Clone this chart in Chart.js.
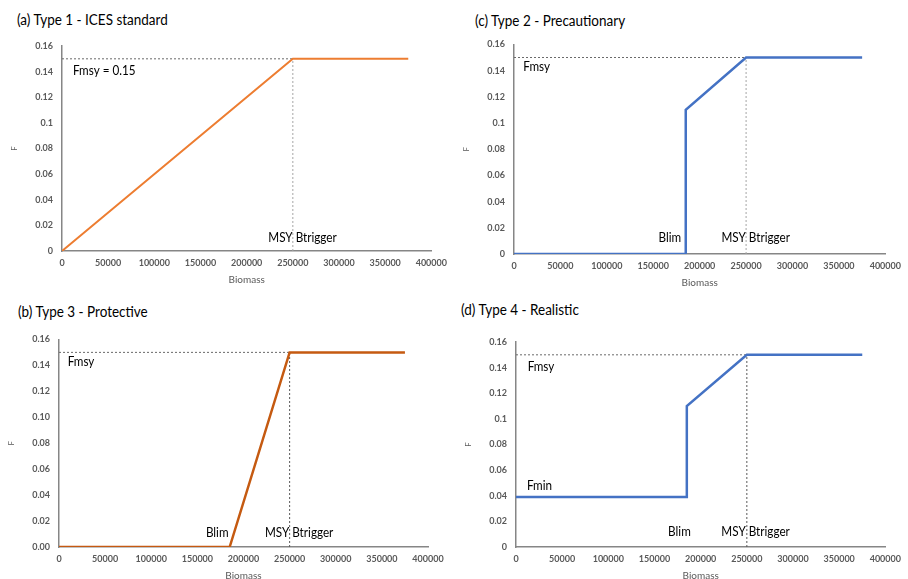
<!DOCTYPE html>
<html lang="en">
<head>
  <meta charset="UTF-8">
  <title>Harvest control rules</title>
  <script src="https://cdn.jsdelivr.net/npm/chart.js"></script>
  <style>
    body {
      margin: 0;
      background: #ffffff;
      font-family: Lato, "Open Sans", sans-serif;
    }
    #page {
      position: relative;
      width: 908px;
      height: 579px;
      overflow: hidden;
    }
    .title {
      position: absolute;
      font-size: 14.5px;
      color: #000;
      white-space: nowrap;
      transform: scaleX(0.93);
      transform-origin: left center;
    }
    .box {
      position: absolute;
    }
  </style>
</head>
<body>
<div id="page">
  <div class="title" style="left:17px; top:11px;">(a) Type 1 - ICES standard</div>
  <div class="title" style="left:475px; top:12px;">(c) Type 2 - Precautionary</div>
  <div class="title" style="left:18px; top:303px;">(b) Type 3 - Protective</div>
  <div class="title" style="left:461px; top:301px;">(d) Type 4 - Realistic</div>

  <div class="box" style="left:0px; top:30px; width:454px; height:262px;"><canvas id="chartA"></canvas></div>
  <div class="box" style="left:454px; top:30px; width:454px; height:262px;"><canvas id="chartC"></canvas></div>
  <div class="box" style="left:0px; top:325px; width:454px; height:262px;"><canvas id="chartB"></canvas></div>
  <div class="box" style="left:454px; top:325px; width:454px; height:262px;"><canvas id="chartD"></canvas></div>
</div>

<script>
  // x ticks and y ticks shared by all four panels
  const biomassTicks = [0, 50000, 100000, 150000, 200000, 250000, 300000, 350000, 400000];
  const fTicks = [0, 0.02, 0.04, 0.06, 0.08, 0.1, 0.12, 0.14, 0.16];

  // reference points
  const fmsy = 0.15;
  const msyBtrigger = 250000;

  // harvest control rules (biomass, F)
  const type1Biomass = [0, 250000, 375000];
  const type1F = [0, 0.15, 0.15];

  const type2Biomass = [0, 185000, 185000, 250000, 375000];
  const type2F = [0, 0, 0.11, 0.15, 0.15];

  const type3Biomass = [0, 185000, 250000, 375000];
  const type3F = [0, 0, 0.15, 0.15];

  const type4Biomass = [0, 185000, 185000, 250000, 375000];
  const type4F = [0.039, 0.039, 0.11, 0.15, 0.15];

  // text labels: [text, biomass, F, align]
  const labelsA = [["Fmsy = 0.15", 11900, 0.1405, "left"], ["MSY Btrigger", 260500, 0.0104, "center"]];
  const labelsC = [["Fmsy", 10000, 0.143, "left"], ["Blim", 180000, 0.0125, "right"], ["MSY Btrigger", 260400, 0.0125, "center"]];
  const labelsB = [["Fmsy", 9400, 0.1425, "left"], ["Blim", 183800, 0.011, "right"], ["MSY Btrigger", 260300, 0.011, "center"]];
  const labelsD = [["Fmsy", 12600, 0.1404, "left"], ["Fmin", 11900, 0.0475, "left"], ["Blim", 177000, 0.0117, "center"], ["MSY Btrigger", 259500, 0.0117, "center"]];

  function toPoints(xs, ys) {
    return xs.map(function (x, i) { return { x: x, y: ys[i] }; });
  }

  // draws the text notes at data positions, a little narrowed like the original font
  const textLabels = {
    id: 'textLabels',
    afterDatasetsDraw: function (chart) {
      const ctx = chart.ctx;
      const xs = chart.scales.x, ys = chart.scales.y;
      const sx = 0.9;
      ctx.save();
      ctx.font = '13px Lato, sans-serif';
      ctx.fillStyle = '#000';
      ctx.textBaseline = 'middle';
      chart.options.plugins.textLabels.items.forEach(function (l) {
        const px = xs.getPixelForValue(l[1]);
        const py = ys.getPixelForValue(l[2]);
        ctx.save();
        ctx.translate(px, py);
        ctx.scale(sx, 1);
        ctx.textAlign = l[3];
        ctx.fillText(l[0], 0, 0);
        ctx.restore();
      });
      ctx.restore();
    }
  };

  function makeChart(id, xs, ys, color, lineW, labels, twoDecimals, area, vColor) {
    // area: chart area inside the canvas [left, top, right, bottom]
    const yW = 52, xH = 35;
    const box = document.getElementById(id).parentNode;
    const W = box.clientWidth, H = box.clientHeight;
    new Chart(document.getElementById(id), {
      type: 'line',
      data: {
        datasets: [
          {
            data: toPoints(xs, ys),
            borderColor: color,
            borderWidth: lineW,
            pointRadius: 0,
            tension: 0,
            fill: false
          },
          {
            data: toPoints([0, msyBtrigger], [fmsy, fmsy]),
            borderColor: '#6a6a6a',
            borderWidth: 1,
            borderDash: [2, 2],
            pointRadius: 0
          },
          {
            data: toPoints([msyBtrigger, msyBtrigger], [0, fmsy]),
            borderColor: vColor,
            borderWidth: 1,
            borderDash: [2, 2],
            pointRadius: 0
          }
        ]
      },
      plugins: [textLabels],
      options: {
        responsive: true,
        maintainAspectRatio: false,
        animation: false,
        layout: {
          padding: { left: area[0] - yW, top: area[1], right: W - area[2], bottom: H - area[3] - xH }
        },
        plugins: {
          legend: { display: false },
          tooltip: { enabled: false },
          textLabels: { items: labels }
        },
        scales: {
          x: {
            type: 'linear',
            min: 0,
            max: 400000,
            afterBuildTicks: function (s) { s.ticks = biomassTicks.map(function (v) { return { value: v }; }); },
            afterFit: function (s) { s.height = xH; },
            grid: { display: false, drawTicks: false },
            border: { color: '#868686', width: 1.5 },
            ticks: {
              padding: 7,
              maxRotation: 0,
              color: '#595959',
              font: { family: 'Lato', size: 9, weight: 'bold' },
              callback: function (v) { return String(v); }
            },
            title: {
              display: true,
              text: 'Biomass',
              color: '#595959',
              padding: { top: 4, bottom: 0 },
              font: { family: 'Lato', size: 10 }
            }
          },
          y: {
            min: 0,
            max: 0.16,
            afterBuildTicks: function (s) { s.ticks = fTicks.map(function (v) { return { value: v }; }); },
            afterFit: function (s) { s.width = yW; },
            grid: { display: false, drawTicks: false },
            border: { color: '#868686', width: 1.5 },
            ticks: {
              padding: 9,
              color: '#595959',
              font: { family: 'Lato', size: 9, weight: 'bold' },
              callback: function (v) { return twoDecimals ? v.toFixed(2) : String(+v.toFixed(2)); }
            },
            title: {
              display: true,
              text: 'F',
              color: '#595959',
              padding: { top: 0, bottom: 2 },
              font: { family: 'Lato', size: 8 }
            }
          }
        }
      }
    });
  }

  makeChart('chartA', type1Biomass, type1F, '#ED7D31', 2, labelsA, false, [62, 16, 432, 221], '#a6a6a6');
  makeChart('chartC', type2Biomass, type2F, '#4472C4', 2.5, labelsC, false, [60, 12, 433, 224], '#a6a6a6');
  makeChart('chartB', type3Biomass, type3F, '#C55A11', 2.5, labelsB, true, [59, 14, 428, 222], '#595959');
  makeChart('chartD', type4Biomass, type4F, '#4472C4', 2.5, labelsD, false, [62, 17, 432, 222], '#595959');
</script>
</body>
</html>
